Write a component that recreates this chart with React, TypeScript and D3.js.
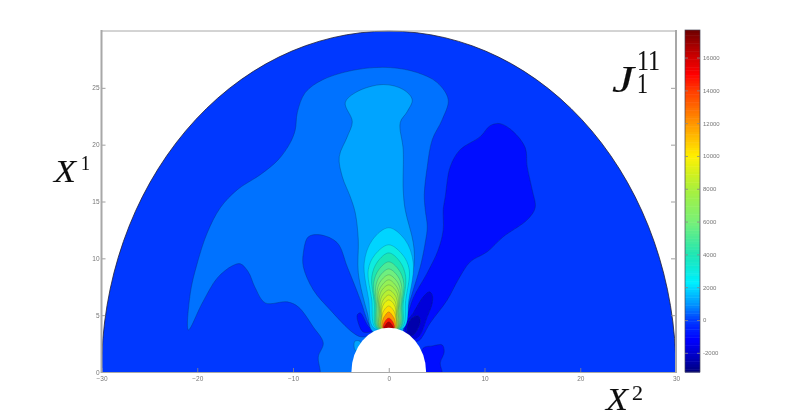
import React, { useRef, useEffect } from "react";
import * as d3 from "d3";

type Pt = [number, number];

const xTicks = [-30, -20, -10, 0, 10, 20, 30];
const yTicks = [0, 5, 10, 15, 20, 25];
const barTicks = [-2000, 0, 2000, 4000, 6000, 8000, 10000, 12000, 14000, 16000];
const barMin = -3170;
const barMax = 17680;

// colour bar
const colorValues = [-3170, -2400, -1220, 0, 1000, 2300, 4000, 6000, 8000, 10000, 12000, 14000, 15000, 16000, 17680];
const colorStops = ["#00007a", "#0000b4", "#0000ff", "#003cff", "#0096ff", "#00f0ff", "#1ee6b4", "#78f078", "#aaf03c", "#fff000", "#ff9600", "#ff3c00", "#ff0000", "#d20000", "#6e0000"];

// contour levels
const bgLevel = -100;
const outerLevel = 600;
const columnLevel = 1200;
const darkLevel = -1000;
const darkerLevel = -1800;
const darkestLevel = -2500;

const outerContour: Pt[] = [
  [-20.93, 3.7], [-20.72, 6.96], [-19.99, 9.6], [-18.95, 12.25], [-17.59, 14.45], [-15.81, 16.04],
  [-13.41, 17.36], [-11.53, 18.68], [-10.28, 20.18], [-9.76, 21.32], [-9.55, 22.82], [-8.72, 24.58],
  [-6.84, 25.73], [-3.29, 26.61], [0.16, 26.78], [2.97, 26.34], [5.06, 25.46], [6.21, 23.96],
  [5.58, 22.2], [4.54, 20.44], [4.02, 18.06], [3.71, 15.59], [3.81, 14.27], [4.02, 12.78],
  [3.81, 11.37], [3.29, 9.25], [2.56, 7.22], [1.72, 4.85], [1.41, 3.7], [0, 1], [-3, -1], [-7.1, -0.8],
  [-7.15, 0.09], [-7.36, 1.32], [-6.84, 2.56], [-7.88, 3.96], [-9.45, 5.73], [-10.59, 6.17], [-12.89, 6.08],
  [-13.94, 7.4], [-14.67, 8.81], [-15.5, 9.52], [-16.34, 9.34], [-17.9, 8.28], [-19.47, 6.08],
];

const columnContour: Pt[] = [
  [-4.54, 23.7], [-3.29, 24.67], [-0.57, 25.29], [1.51, 24.85], [2.45, 23.96], [1.93, 22.91], [1.2, 21.94],
  [1.51, 19.56], [1.51, 16.04], [1.72, 14.27], [2.56, 11.37], [2.66, 9.6], [2.04, 6.96], [1.51, 4.58],
  [1.41, 3.52], [-1.62, 3.52], [-2.24, 5.2], [-3.18, 8.72], [-3.18, 11.63], [-3.5, 14.01], [-4.02, 15.42],
  [-4.85, 17.18], [-5.17, 18.94], [-4.33, 20.7], [-3.81, 22.03],
];

const leftLobe: Pt[] = [
  [-7.15, 12.07], [-5.38, 11.37], [-4.33, 9.25], [-2.97, 6.34], [-2.14, 4.32], [-1.62, 3.52], [-2.77, 3.08],
  [-3.71, 3.44], [-6.11, 5.46], [-7.88, 7.22], [-8.92, 9.25], [-8.92, 10.48], [-8.4, 11.89],
];
const leftBlob: Pt[] = [
  [-2.97, 5.2], [-2.24, 4.14], [-1.72, 3.61], [-2.66, 3.52], [-3.18, 4.32], [-3.29, 5.02],
];
const leftSpot: Pt[] = [[-3.55, 2.7], [-3.0, 2.7], [-2.8, 1.9], [-3.5, 1.9]];

const rightDark: Pt[] = [
  [5.69, 14.27], [5.9, 15.42], [6.42, 18.06], [7.46, 19.56], [9.55, 20.7], [10.59, 21.67], [11.64, 21.85],
  [13, 21.15], [14.25, 19.74], [14.46, 18.06], [14.98, 16.04], [15.29, 14.45], [14.46, 13.39], [11.95, 11.89],
  [10.28, 10.57], [8.51, 9.69], [7.25, 8.11], [6.11, 6.34], [4.33, 4.32], [3.08, 2.73], [2, 2.8], [1.5, 3.85],
  [1.93, 4.85], [2.56, 6.52], [4.02, 8.72], [5.17, 10.75], [5.69, 12.51],
];
const rightDarker: Pt[] = [
  [4.54, 6.78], [4.54, 6.08], [4.02, 4.85], [3.08, 3.08], [2, 2.9], [1.72, 4.14], [2.56, 5.2], [3.6, 6.61], [4.23, 7.05],
];
const rightDarkest: Pt[] = [
  [3.08, 4.93], [3.29, 4.41], [2.56, 3.26], [2.04, 3.26], [1.93, 3.96], [2.45, 4.76],
];
const lowBlob: Pt[] = [
  [3.6, 2.11], [4.54, 2.29], [5.58, 2.38], [5.79, 1.76], [5.38, 0.79], [5.58, 0], [5.6, -0.7], [4, -0.7], [3.3, 1],
];

// central arches: right half of each, mirrored when drawn
const archLevels = [1900, 3000, 4000, 5000, 5800, 6500, 7100, 7700, 8300, 8900, 9500, 10500, 12000, 14500, 16500];
const archHalves: Pt[][] = [
  [[0, 12.69], [1.7, 11.63], [2.56, 9.6], [2.09, 6.34], [1.57, 3.88]],
  [[0, 11.19], [1.45, 10.31], [2.14, 8.99], [1.77, 6.34], [1.36, 3.88]],
  [[0, 10.48], [1.18, 9.69], [1.77, 8.37], [1.51, 6.08], [1.25, 3.88]],
  [[0, 9.69], [1.05, 8.99], [1.57, 7.84], [1.36, 5.9], [1.15, 3.88]],
  [[0, 9.07], [0.92, 8.46], [1.36, 7.49], [1.25, 5.73], [1.04, 3.88]],
  [[0, 8.55], [0.82, 8.02], [1.2, 7.22], [1.1, 5.55], [0.99, 3.88]],
  [[0, 8.11], [0.76, 7.58], [1.1, 6.87], [0.99, 5.37], [0.94, 3.88]],
  [[0, 7.67], [0.7, 7.22], [0.99, 6.52], [0.94, 5.29], [0.89, 3.88]],
  [[0, 7.22], [0.64, 6.78], [0.89, 6.17], [0.84, 5.11], [0.84, 3.88]],
  [[0, 6.78], [0.58, 6.34], [0.78, 5.81], [0.78, 4.93], [0.78, 3.88]],
  [[0, 6.34], [0.52, 5.99], [0.73, 5.46], [0.73, 4.76], [0.73, 3.88]],
  [[0, 5.81], [0.47, 5.46], [0.68, 5.02], [0.68, 3.88]],
  [[0, 5.29], [0.42, 4.93], [0.63, 4.58], [0.63, 3.88]],
  [[0, 4.76], [0.37, 4.49], [0.57, 4.14], [0.57, 3.88]],
  [[0, 4.41], [0.3, 4.2], [0.52, 3.8]],
];

const holeRadius = 3.9;
const discRadius = 30;

const plot = { left: 101.5, right: 676, top: 31, bottom: 372 };
const bar = { left: 685, right: 700, top: 30, bottom: 372 };

export default function App() {
  const svgRef = useRef<SVGSVGElement>(null);

  useEffect(() => {
    const svg = d3.select(svgRef.current);
    svg.selectAll("*").remove();

    const x = d3.scaleLinear().domain([-30, 30]).range([plot.left, plot.right]);
    const y = d3.scaleLinear().domain([0, 30]).range([plot.bottom, plot.top]);
    const barY = d3.scaleLinear().domain([barMin, barMax]).range([bar.bottom, bar.top]);
    const color = d3.scaleLinear<string>().domain(colorValues).range(colorStops).interpolate(d3.interpolateRgb);

    const defs = svg.append("defs");
    defs.append("filter").attr("id", "soft").attr("x", "-5%").attr("y", "-5%").attr("width", "110%").attr("height", "110%")
      .append("feGaussianBlur").attr("stdDeviation", 0.6);

    const rx = x(discRadius) - x(0);
    const ry = y(0) - y(discRadius);
    const discPath = `M${x(-discRadius)},${y(0)} A${rx},${ry} 0 0 1 ${x(discRadius)},${y(0)} Z`;
    defs.append("clipPath").attr("id", "disc").append("path").attr("d", discPath);

    const root = svg.append("g").attr("filter", "url(#soft)");
    root.append("rect").attr("width", 786).attr("height", 418).attr("fill", "#fff");

    // disc background
    root.append("path").attr("d", discPath).attr("fill", color(bgLevel));

    const line = d3.line<Pt>().x((d) => x(d[0])).y((d) => y(d[1])).curve(d3.curveCatmullRomClosed.alpha(0.5));
    const field = root.append("g").attr("clip-path", "url(#disc)");
    const contour = (pts: Pt[], level: number, opacity = 0.55) =>
      field.append("path").attr("d", line(pts)).attr("fill", color(level))
        .attr("stroke", "#103060").attr("stroke-opacity", opacity).attr("stroke-width", 0.6);

    contour(outerContour, outerLevel);
    contour(leftLobe, bgLevel);
    contour(leftBlob, darkLevel);
    contour(leftSpot, columnLevel);
    contour(rightDark, darkLevel);
    contour(rightDarker, darkerLevel);
    contour(rightDarkest, darkestLevel);
    contour(lowBlob, darkLevel);
    contour(columnContour, columnLevel);
    archHalves.forEach((half, i) => {
      const mirrored = half.slice(1).reverse().map((d): Pt => [-d[0], d[1]]);
      contour([...half, ...mirrored], archLevels[i], 0.35);
    });

    // hole
    root.append("ellipse").attr("cx", x(0)).attr("cy", y(0))
      .attr("rx", x(holeRadius) - x(0)).attr("ry", y(0) - y(holeRadius)).attr("fill", "#fff");
    root.append("rect").attr("x", plot.left).attr("y", plot.bottom).attr("width", plot.right - plot.left).attr("height", 40).attr("fill", "#fff");

    // disc outline
    root.append("path").attr("d", `M${x(-discRadius)},${y(0)} A${rx},${ry} 0 0 1 ${x(discRadius)},${y(0)}`)
      .attr("fill", "none").attr("stroke", "#223").attr("stroke-width", 0.8);

    // axes
    const styleAxis = (g: any) => {
      g.select(".domain").remove();
      g.selectAll("line").attr("stroke", "#888").attr("stroke-width", 0.8);
      g.selectAll("text").attr("fill", "#777").attr("font-size", 6.5).attr("font-family", "'Liberation Sans', sans-serif");
    };
    root.append("g").attr("transform", `translate(0,${plot.bottom})`)
      .call(d3.axisBottom(x).tickValues(xTicks).tickSize(-4).tickPadding(4)).call(styleAxis);
    root.append("g").attr("transform", `translate(${plot.left},0)`)
      .call(d3.axisLeft(y).tickValues(yTicks).tickSize(-4).tickPadding(2)).call(styleAxis);
    root.append("g").attr("transform", `translate(${plot.right},0)`)
      .call(d3.axisRight(y).tickValues(yTicks).tickSize(-5).tickFormat(() => "")).call(styleAxis);

    const frame = (x1: number, y1: number, x2: number, y2: number, w: number) =>
      root.append("line").attr("x1", x1).attr("y1", y1).attr("x2", x2).attr("y2", y2)
        .attr("stroke", "#a8a8a8").attr("stroke-width", w);
    frame(plot.left, plot.top - 1, plot.left, plot.bottom + 1, 2);
    frame(plot.right, plot.top - 1, plot.right, plot.bottom + 1, 2);
    frame(plot.left, plot.top, plot.right, plot.top, 1);
    frame(plot.left, plot.bottom + 0.5, plot.right, plot.bottom + 0.5, 1.2);

    // colour bar
    const barCells = d3.range(0, 128);
    const cellH = (bar.bottom - bar.top) / barCells.length;
    root.append("g").selectAll("rect").data(barCells).join("rect")
      .attr("x", bar.left).attr("width", bar.right - bar.left)
      .attr("y", (d) => barY(barMin + ((d + 1) / barCells.length) * (barMax - barMin)))
      .attr("height", cellH + 0.5)
      .attr("fill", (d) => color(barMin + ((d + 0.5) / barCells.length) * (barMax - barMin)));
    root.append("rect").attr("x", bar.left).attr("y", bar.top).attr("width", bar.right - bar.left)
      .attr("height", bar.bottom - bar.top).attr("fill", "none").attr("stroke", "#445").attr("stroke-width", 0.7);
    const barAxis = root.append("g").attr("transform", `translate(${bar.right},0)`)
      .call(d3.axisRight(barY).tickValues(barTicks).tickSize(-3).tickPadding(3).tickFormat((d) => String(d)))
      .call(styleAxis);
    barAxis.selectAll("text").attr("font-size", 6).attr("x", 3);
    root.append("g").attr("transform", `translate(${bar.left},0)`)
      .call(d3.axisRight(barY).tickValues(barTicks).tickSize(3).tickFormat(() => ""))
      .call(styleAxis);

    // math labels
    const label = (txt: string, px: number, py: number, size: number, italic = false, width = 0) => {
      const t = root.append("text").attr("x", px).attr("y", py).attr("font-size", size)
        .attr("font-family", "'Liberation Serif', serif").attr("font-style", italic ? "italic" : "normal")
        .attr("fill", "#111").attr("stroke", "#111").attr("stroke-width", 0.12).text(txt);
      if (width) t.attr("textLength", width).attr("lengthAdjust", "spacingAndGlyphs");
    };
    label("X", 54, 182, 32, true, 22);
    label("1", 81, 170, 20, false, 9);
    label("X", 606, 410, 32, true, 22);
    label("2", 632, 400, 20, false, 11);
    label("J", 612, 92, 38, true, 22);
    label("11", 637, 70, 29, false, 23);
    label("1", 637, 93, 29, false, 11);
  }, []);

  return <svg ref={svgRef} width={786} height={418} style={{ position: "absolute", left: 0, top: 0 }} />;
}
